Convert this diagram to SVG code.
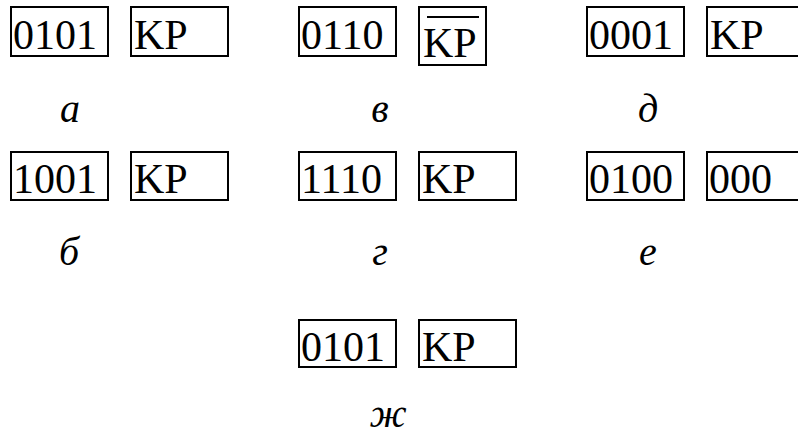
<svg xmlns="http://www.w3.org/2000/svg" width="798" height="437" viewBox="0 0 798 437">
  <style>
    .box { fill: #fff; stroke: #000; stroke-width: 2; }
    .code { font-family: 'Times New Roman', 'Liberation Serif', 'DejaVu Serif', serif; font-size: 42px; fill: #000; }
    .lbl { font-family: 'Times New Roman', 'Liberation Serif', 'DejaVu Serif', serif; font-size: 40px; font-style: italic; fill: #000; text-anchor: middle; }
  </style>

  <!-- а -->
  <g id="a">
    <rect class="box" x="11" y="7" width="97" height="49"/>
    <text class="code" x="13" y="49">0101</text>
    <rect class="box" x="131" y="7" width="97" height="49"/>
    <text class="code" x="134" y="49">KP</text>
    <text class="lbl" x="70" y="122">а</text>
  </g>

  <!-- в -->
  <g id="v">
    <rect class="box" x="299" y="7" width="97" height="49"/>
    <text class="code" x="301" y="49">0110</text>
    <rect class="box" x="419" y="7" width="67" height="58"/>
    <line x1="427" y1="17" x2="479" y2="17" stroke="#000" stroke-width="2"/>
    <text class="code" x="423" y="57">KP</text>
    <text class="lbl" x="380" y="122">в</text>
  </g>

  <!-- д -->
  <g id="d">
    <rect class="box" x="587" y="7" width="97" height="49"/>
    <text class="code" x="589" y="49">0001</text>
    <rect class="box" x="707" y="7" width="97" height="49"/>
    <text class="code" x="710" y="49">KP</text>
    <text class="lbl" x="648" y="122">д</text>
  </g>

  <!-- б -->
  <g id="b">
    <rect class="box" x="11" y="152" width="97" height="48"/>
    <text class="code" x="13" y="193">1001</text>
    <rect class="box" x="131" y="152" width="97" height="48"/>
    <text class="code" x="134" y="193">KP</text>
    <text class="lbl" x="69" y="265">б</text>
  </g>

  <!-- г -->
  <g id="g">
    <rect class="box" x="299" y="152" width="97" height="48"/>
    <text class="code" x="301" y="193">1110</text>
    <rect class="box" x="419" y="152" width="97" height="48"/>
    <text class="code" x="422" y="193">KP</text>
    <text class="lbl" x="380" y="265">г</text>
  </g>

  <!-- е -->
  <g id="e">
    <rect class="box" x="587" y="152" width="97" height="48"/>
    <text class="code" x="589" y="193">0100</text>
    <rect class="box" x="707" y="152" width="97" height="48"/>
    <text class="code" x="709" y="193">000</text>
    <text class="lbl" x="648" y="265">е</text>
  </g>

  <!-- ж -->
  <g id="zh">
    <rect class="box" x="299" y="320" width="97" height="47"/>
    <text class="code" x="301" y="361">0101</text>
    <rect class="box" x="419" y="320" width="97" height="47"/>
    <text class="code" x="422" y="361">KP</text>
    <text class="lbl" x="388" y="427">ж</text>
  </g>

  <g id="connectors"></g>
</svg>
